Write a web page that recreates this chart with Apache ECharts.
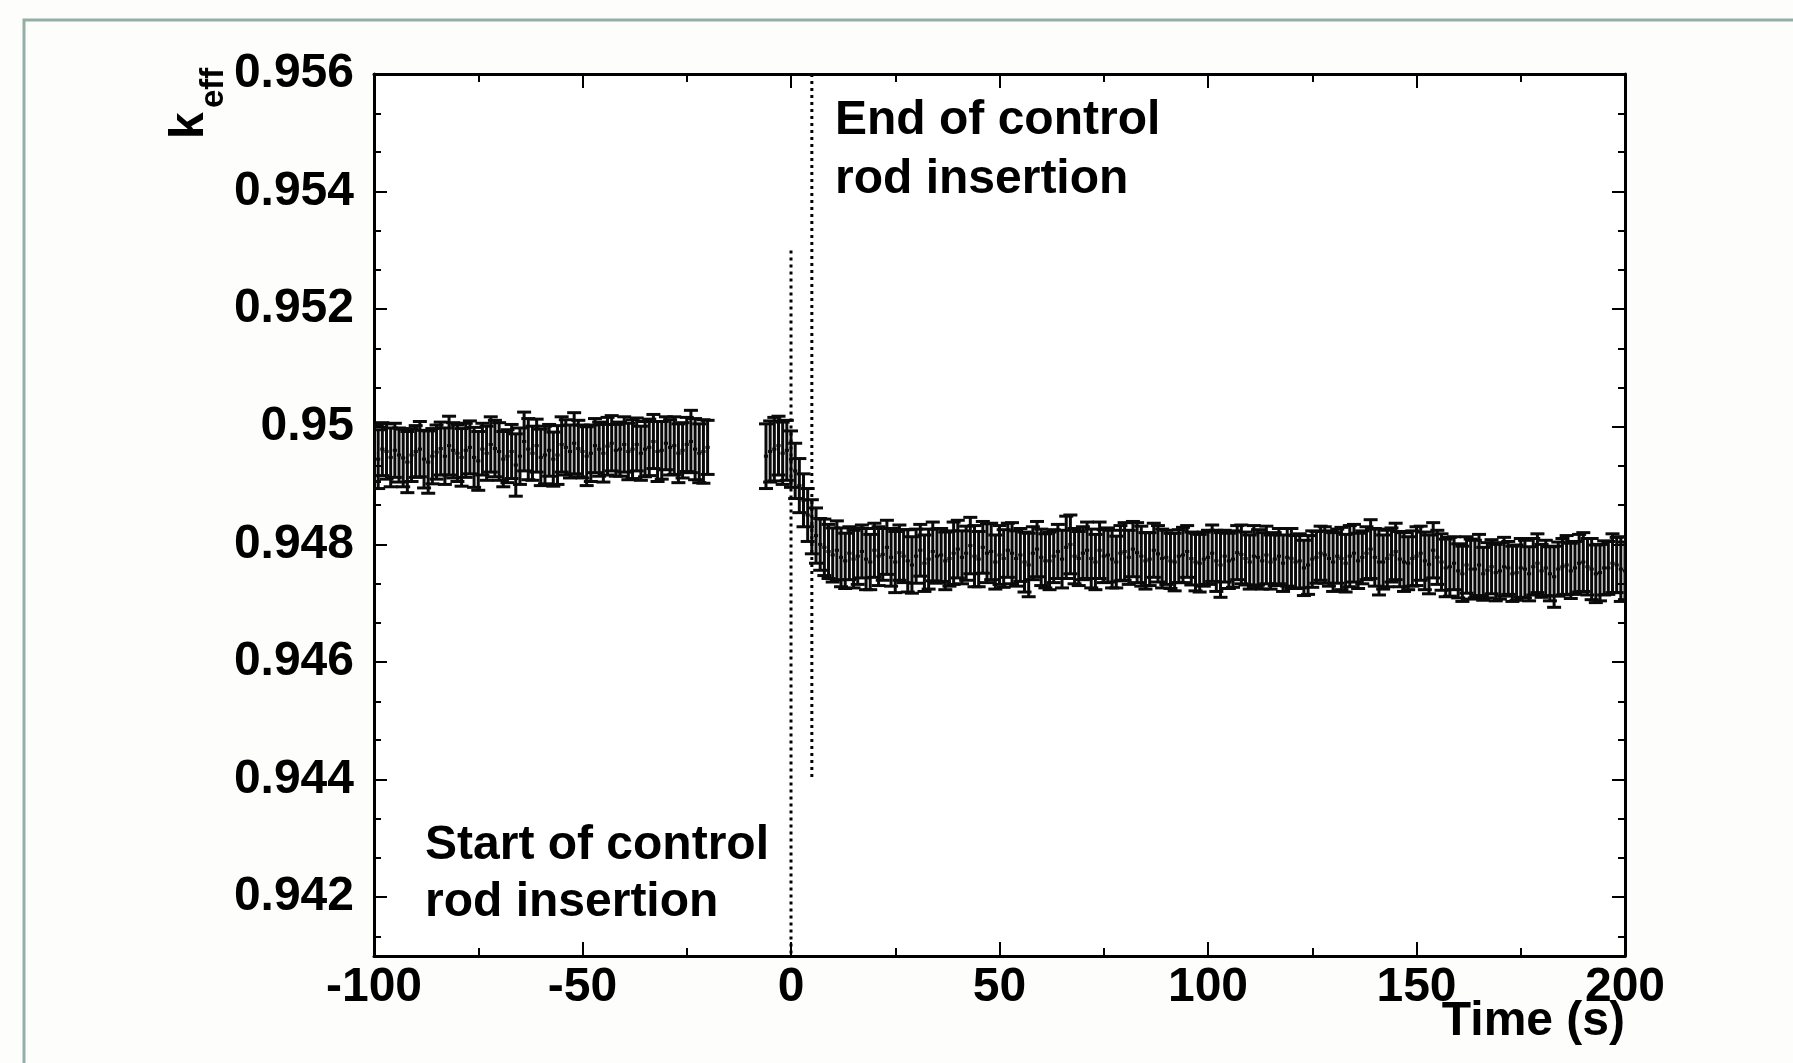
<!DOCTYPE html>
<html>
<head>
<meta charset="utf-8">
<script src="https://cdn.jsdelivr.net/npm/echarts@6/dist/echarts.min.js"></script>
<style>
html,body{margin:0;padding:0;background:#fdfdfc;}
#chart{width:1793px;height:1063px;}
</style>
</head>
<body>
<div id="chart"></div>
<script>
// ---- data (1 s sampling) ----
const timePre = [-100,-99,-98,-97,-96,-95,-94,-93,-92,-91,
                 -90,-89,-88,-87,-86,-85,-84,-83,-82,-81,
                 -80,-79,-78,-77,-76,-75,-74,-73,-72,-71,
                 -70,-69,-68,-67,-66,-65,-64,-63,-62,-61,
                 -60,-59,-58,-57,-56,-55,-54,-53,-52,-51,
                 -50,-49,-48,-47,-46,-45,-44,-43,-42,-41,
                 -40,-39,-38,-37,-36,-35,-34,-33,-32,-31,
                 -30,-29,-28,-27,-26,-25,-24,-23,-22,-21,
                 -20];
const keffPre = [0.94955,0.94945,0.94962,0.94958,0.94948,0.94960,0.94952,0.94947,0.94940,0.94952,
                 0.94958,0.94962,0.94945,0.94940,0.94950,0.94957,0.94963,0.94950,0.94968,0.94960,
                 0.94955,0.94948,0.94960,0.94965,0.94948,0.94942,0.94962,0.94955,0.94970,0.94963,
                 0.94958,0.94945,0.94950,0.94958,0.94935,0.94950,0.94975,0.94962,0.94955,0.94968,
                 0.94948,0.94952,0.94960,0.94945,0.94952,0.94970,0.94965,0.94958,0.94972,0.94963,
                 0.94958,0.94950,0.94955,0.94968,0.94962,0.94955,0.94967,0.94972,0.94960,0.94962,
                 0.94970,0.94958,0.94962,0.94970,0.94955,0.94962,0.94965,0.94975,0.94958,0.94960,
                 0.94972,0.94965,0.94968,0.94955,0.94960,0.94970,0.94975,0.94962,0.94955,0.94958,
                 0.94965];
const errPre = [0.00048,0.00050,0.00045,0.00047,0.00050,0.00046,0.00046,0.00049,0.00052,0.00045,
                0.00044,0.00047,0.00049,0.00053,0.00047,0.00046,0.00045,0.00048,0.00050,0.00047,
                0.00048,0.00049,0.00046,0.00045,0.00051,0.00050,0.00044,0.00046,0.00047,0.00048,
                0.00049,0.00047,0.00045,0.00046,0.00053,0.00048,0.00050,0.00052,0.00046,0.00045,
                0.00048,0.00049,0.00044,0.00046,0.00050,0.00047,0.00047,0.00045,0.00052,0.00048,
                0.00045,0.00050,0.00048,0.00046,0.00046,0.00049,0.00049,0.00047,0.00044,0.00046,
                0.00047,0.00048,0.00050,0.00045,0.00046,0.00047,0.00048,0.00046,0.00051,0.00049,
                0.00045,0.00047,0.00049,0.00050,0.00047,0.00046,0.00053,0.00052,0.00050,0.00054,
                0.00046];

const timePost = [-6,-5,-4,-3,-2,-1,0,1,2,3,
                  4,5,6,7,8,9,10,11,12,13,
                  14,15,16,17,18,19,20,21,22,23,
                  24,25,26,27,28,29,30,31,32,33,
                  34,35,36,37,38,39,40,41,42,43,
                  44,45,46,47,48,49,50,51,52,53,
                  54,55,56,57,58,59,60,61,62,63,
                  64,65,66,67,68,69,70,71,72,73,
                  74,75,76,77,78,79,80,81,82,83,
                  84,85,86,87,88,89,90,91,92,93,
                  94,95,96,97,98,99,100,101,102,103,
                  104,105,106,107,108,109,110,111,112,113,
                  114,115,116,117,118,119,120,121,122,123,
                  124,125,126,127,128,129,130,131,132,133,
                  134,135,136,137,138,139,140,141,142,143,
                  144,145,146,147,148,149,150,151,152,153,
                  154,155,156,157,158,159,160,161,162,163,
                  164,165,166,167,168,169,170,171,172,173,
                  174,175,176,177,178,179,180,181,182,183,
                  184,185,186,187,188,189,190,191,192,193,
                  194,195,196,197,198,199,200];
const keffPost = [0.94950,0.94958,0.94962,0.94968,0.94955,0.94960,0.94945,0.94925,0.94900,0.94875,
                  0.94850,0.94830,0.94815,0.94800,0.94795,0.94788,0.94782,0.94790,0.94778,0.94772,
                  0.94785,0.94775,0.94780,0.94788,0.94775,0.94770,0.94790,0.94780,0.94783,0.94795,
                  0.94778,0.94770,0.94786,0.94780,0.94772,0.94765,0.94780,0.94790,0.94768,0.94775,
                  0.94788,0.94780,0.94782,0.94772,0.94776,0.94785,0.94792,0.94778,0.94785,0.94798,
                  0.94780,0.94775,0.94795,0.94785,0.94788,0.94770,0.94782,0.94776,0.94790,0.94785,
                  0.94776,0.94782,0.94770,0.94765,0.94785,0.94792,0.94778,0.94772,0.94772,0.94780,
                  0.94788,0.94775,0.94795,0.94800,0.94780,0.94776,0.94785,0.94790,0.94776,0.94770,
                  0.94790,0.94780,0.94782,0.94775,0.94770,0.94785,0.94788,0.94778,0.94792,0.94786,
                  0.94780,0.94772,0.94775,0.94790,0.94784,0.94776,0.94778,0.94772,0.94770,0.94780,
                  0.94782,0.94788,0.94776,0.94770,0.94768,0.94775,0.94778,0.94785,0.94772,0.94765,
                  0.94780,0.94772,0.94775,0.94786,0.94783,0.94776,0.94770,0.94780,0.94778,0.94772,
                  0.94782,0.94770,0.94775,0.94780,0.94768,0.94778,0.94776,0.94770,0.94772,0.94760,
                  0.94765,0.94775,0.94778,0.94785,0.94782,0.94776,0.94770,0.94780,0.94776,0.94768,
                  0.94780,0.94785,0.94772,0.94778,0.94785,0.94792,0.94778,0.94770,0.94770,0.94776,
                  0.94782,0.94788,0.94775,0.94770,0.94768,0.94776,0.94780,0.94785,0.94772,0.94766,
                  0.94790,0.94778,0.94770,0.94760,0.94762,0.94768,0.94755,0.94750,0.94765,0.94758,
                  0.94758,0.94765,0.94750,0.94756,0.94762,0.94752,0.94755,0.94762,0.94760,0.94750,
                  0.94752,0.94760,0.94758,0.94750,0.94762,0.94768,0.94755,0.94760,0.94750,0.94745,
                  0.94758,0.94762,0.94765,0.94755,0.94760,0.94768,0.94770,0.94762,0.94758,0.94750,
                  0.94752,0.94760,0.94760,0.94768,0.94765,0.94758,0.94755];
const errPost = [0.00055,0.00052,0.00054,0.00050,0.00053,0.00051,0.00048,0.00047,0.00046,0.00045,
                 0.00045,0.00046,0.00047,0.00044,0.00048,0.00046,0.00046,0.00050,0.00050,0.00047,
                 0.00045,0.00049,0.00048,0.00045,0.00052,0.00047,0.00046,0.00050,0.00044,0.00046,
                 0.00049,0.00052,0.00047,0.00045,0.00053,0.00048,0.00046,0.00044,0.00048,0.00051,
                 0.00050,0.00046,0.00045,0.00049,0.00047,0.00053,0.00049,0.00045,0.00046,0.00048,
                 0.00052,0.00047,0.00044,0.00050,0.00048,0.00046,0.00050,0.00049,0.00046,0.00052,
                 0.00047,0.00045,0.00051,0.00054,0.00045,0.00047,0.00048,0.00046,0.00049,0.00045,
                 0.00046,0.00049,0.00053,0.00050,0.00047,0.00046,0.00045,0.00048,0.00050,0.00047,
                 0.00048,0.00045,0.00046,0.00049,0.00044,0.00047,0.00049,0.00046,0.00047,0.00051,
                 0.00051,0.00048,0.00045,0.00046,0.00048,0.00050,0.00046,0.00047,0.00049,0.00045,
                 0.00047,0.00044,0.00045,0.00049,0.00049,0.00046,0.00046,0.00048,0.00052,0.00055,
                 0.00044,0.00047,0.00048,0.00046,0.00050,0.00045,0.00046,0.00052,0.00047,0.00048,
                 0.00049,0.00046,0.00045,0.00047,0.00048,0.00049,0.00051,0.00045,0.00046,0.00047,
                 0.00050,0.00048,0.00044,0.00046,0.00048,0.00047,0.00050,0.00046,0.00053,0.00049,
                 0.00052,0.00049,0.00047,0.00045,0.00045,0.00050,0.00049,0.00056,0.00046,0.00048,
                 0.00046,0.00048,0.00047,0.00050,0.00045,0.00047,0.00050,0.00046,0.00049,0.00050,
                 0.00047,0.00046,0.00048,0.00049,0.00050,0.00045,0.00046,0.00047,0.00048,0.00051,
                 0.00049,0.00052,0.00045,0.00047,0.00046,0.00048,0.00048,0.00050,0.00045,0.00047,
                 0.00047,0.00050,0.00049,0.00046,0.00048,0.00050,0.00045,0.00047,0.00046,0.00052,
                 0.00046,0.00048,0.00050,0.00047,0.00045,0.00049,0.00050,0.00048,0.00052,0.00049,
                 0.00048,0.00046,0.00045,0.00050,0.00047,0.00055,0.00049];

// marker lines: [time, kFrom, kTo]
const startLine = [0, 0.953, 0.941];
const endLine   = [5, 0.956, 0.944];

// axes
const xMin = -100, xMax = 200, xStep = 50;
const yMin = 0.941, yMax = 0.956;
const yMajorTicks = [0.942,0.944,0.946,0.948,0.950,0.952,0.954,0.956];
const yMinorTicks = [0.94133,0.94267,0.94333,0.94467,0.94533,0.94667,0.94733,0.94867,0.94933,0.95067,0.95133,0.95267,0.95333,0.95467,0.95533];

const xTitle = 'Time (s)';
const yTitleMain = 'k';
const yTitleSub = 'eff';
const startText = 'Start of control\nrod insertion';
const endText = 'End of control\nrod insertion';

// ---- chart ----
const FONT = "'Liberation Sans', Arial, Helvetica, sans-serif";
const chart = echarts.init(document.getElementById('chart'), null, {renderer: 'canvas'});

const errData = [];
timePre.forEach((t, i) => errData.push([t, keffPre[i], errPre[i]]));
timePost.forEach((t, i) => errData.push([t, keffPost[i], errPost[i]]));

const axLine = {show: true, onZero: false, lineStyle: {color: '#000', width: 3}};
const noLine = {show: false, onZero: false};
const labelStyle = {color: '#000', fontFamily: FONT, fontWeight: 'bold', fontSize: 48};

function yAx(position, ticks, len, showLabel, showLine) {
  return {
    type: 'value', min: yMin, max: yMax, position: position,
    axisLine: showLine ? axLine : noLine,
    axisTick: {show: true, inside: true, length: len, customValues: ticks, lineStyle: {color: '#000', width: 2}},
    axisLabel: showLabel ? Object.assign({show: true, margin: 20, customValues: yMajorTicks,
      formatter: v => String(parseFloat(Number(v).toFixed(3)))}, labelStyle) : {show: false},
    splitLine: {show: false}
  };
}

function xAx(position, showLabel) {
  return {
    type: 'value', min: xMin, max: xMax, interval: xStep, position: position,
    axisLine: axLine,
    axisTick: {show: true, inside: true, length: 14, lineStyle: {color: '#000', width: 2}},
    minorTick: {show: true, splitNumber: 2, length: 8, lineStyle: {color: '#000', width: 2}},
    axisLabel: showLabel ? Object.assign({show: true, margin: 8}, labelStyle) : {show: false},
    splitLine: {show: false}
  };
}

const option = {
  backgroundColor: '#fdfdfc',
  animation: false,
  grid: {left: 374, top: 74, width: 1251, height: 882, show: true, backgroundColor: '#ffffff', borderWidth: 0},
  xAxis: [xAx('bottom', true), xAx('top', false)],
  yAxis: [
    yAx('left', yMajorTicks, 13, true, true),
    yAx('left', yMinorTicks, 7, false, false),
    yAx('right', yMajorTicks, 13, false, true),
    yAx('right', yMinorTicks, 7, false, false)
  ],
  series: [
    {
      type: 'custom',
      xAxisIndex: 0, yAxisIndex: 0,
      clip: true,
      data: errData,
      encode: {x: 0, y: 1},
      renderItem: function (params, api) {
        const t = api.value(0), k = api.value(1), e = api.value(2);
        const c = api.coord([t, k]);
        const hi = api.coord([t, k + e]);
        const lo = api.coord([t, k - e]);
        const l = api.coord([t - 0.5, k]);
        const r = api.coord([t + 0.5, k]);
        const cap = 7;
        const st = {stroke: '#0a0a0a', lineWidth: 3};
        return {
          type: 'group',
          children: [
            {type: 'line', shape: {x1: c[0], y1: hi[1], x2: c[0], y2: lo[1]}, style: st},
            {type: 'line', shape: {x1: c[0] - cap, y1: hi[1], x2: c[0] + cap, y2: hi[1]}, style: st},
            {type: 'line', shape: {x1: c[0] - cap, y1: lo[1], x2: c[0] + cap, y2: lo[1]}, style: st},
            {type: 'line', shape: {x1: l[0], y1: c[1], x2: r[0], y2: c[1]}, style: st}
          ]
        };
      }
    },
    {
      type: 'line', xAxisIndex: 0, yAxisIndex: 0, symbol: 'none', silent: true,
      data: [[startLine[0], startLine[1]], [startLine[0], startLine[2]]],
      lineStyle: {color: '#000', width: 3, type: [3, 4]}
    },
    {
      type: 'line', xAxisIndex: 0, yAxisIndex: 0, symbol: 'none', silent: true,
      data: [[endLine[0], endLine[1]], [endLine[0], endLine[2]]],
      lineStyle: {color: '#000', width: 3, type: [3, 4]}
    }
  ],
  graphic: [
    {type: 'rect', silent: true, z: -10, shape: {x: 24, y: 20, width: 1800, height: 1100},
     style: {fill: null, stroke: '#93ada7', lineWidth: 3}},
    {type: 'text', x: 1625, y: 1022, silent: true,
     style: {text: xTitle, align: 'right', verticalAlign: 'middle', fill: '#000', font: 'bold 48px ' + FONT}},
    {type: 'text', x: 190, y: 139, rotation: Math.PI / 2, silent: true,
     style: {text: yTitleMain, align: 'left', verticalAlign: 'middle', fill: '#000', font: 'bold 48px ' + FONT}},
    {type: 'text', x: 214, y: 108, rotation: Math.PI / 2, silent: true,
     style: {text: yTitleSub, align: 'left', verticalAlign: 'middle', fill: '#000', font: 'bold 33px ' + FONT}},
    {type: 'text', x: 835, y: 150, silent: true,
     style: {text: endText, align: 'left', verticalAlign: 'middle', lineHeight: 59, fill: '#000', font: 'bold 48px ' + FONT}},
    {type: 'text', x: 425, y: 874, silent: true,
     style: {text: startText, align: 'left', verticalAlign: 'middle', lineHeight: 57, fill: '#000', font: 'bold 48px ' + FONT}}
  ]
};
chart.setOption(option);
</script>
</body>
</html>
